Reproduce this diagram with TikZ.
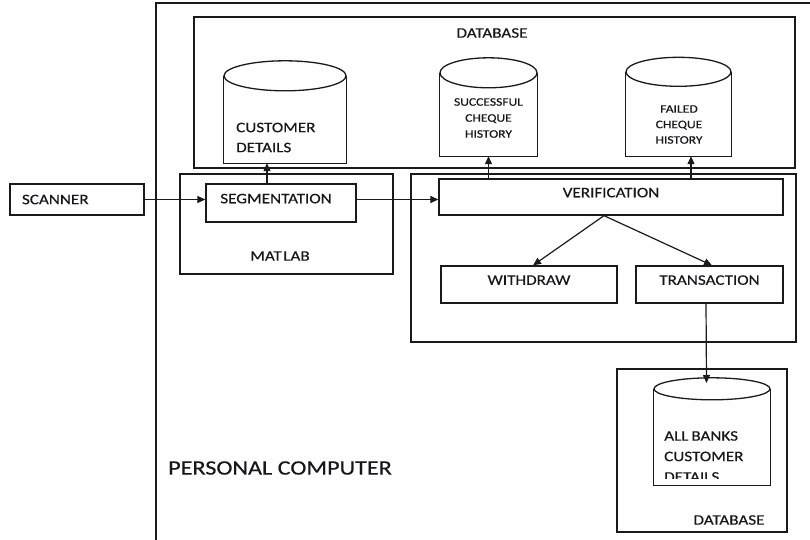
\documentclass[tikz,border=0pt]{standalone}
\usepackage{fontspec}
\setmainfont{Carlito}[FakeStretch=1.18, FakeBold=0.35]
\usetikzlibrary{arrows.meta,calc}
\definecolor{ink}{HTML}{16161E}
\definecolor{edge}{HTML}{1A1A1A}
\begin{document}
\begin{tikzpicture}[x=1pt,y=-1pt,
  every node/.style={text=ink, inner sep=0pt},
  lbl/.style={font=\fontsize{14.5}{20}\selectfont},
  small/.style={font=\fontsize{11.5}{16}\selectfont},
  frame/.style={draw=edge, line width=1.3pt},
  boxtext/.style={frame, lbl, text height=9pt, text depth=8.5pt},
  arr/.style={draw=edge, line width=1.2pt, -{Triangle[length=8pt,width=7pt]}},
]
\clip (0,0) rectangle (810,539);
\fill[white] (0,0) rectangle (810,539);

% personal computer enclosure (runs off the right and bottom)
\node[frame, minimum width=674pt, minimum height=557pt] (pc) at (493,281.5) {};
\node[anchor=west, font=\fontsize{20.5}{24}\selectfont] (pclbl) at (168,468) {PERSONAL COMPUTER};

% upper database group
\node[frame, minimum width=601pt, minimum height=151pt] (db) at (494.5,92.5) {};
\node[lbl] (dblbl) at (492,33) {DATABASE};

% cylinder bodies (flat bottoms, elliptical lids)
\node[minimum width=122pt, minimum height=87pt] (cust) at (285,119.5) {};
\node[minimum width=97pt, minimum height=83pt] (succ) at (488.5,114.5) {};
\node[minimum width=105pt, minimum height=84pt] (fail) at (678.5,114) {};
\foreach \c/\rx/\ry in {cust/61/15, succ/48.5/15, fail/52.5/14.5}{
  \draw[frame] (\c.north west) -- (\c.south west) -- (\c.south east) -- (\c.north east);
  \draw[frame, fill=white] (\c.north) ellipse [x radius=\rx, y radius=\ry];
}
\node[lbl, anchor=west, align=left] (custtxt) at (236,137.5) {CUSTOMER\\DETAILS};
\node[small, align=center] (succtxt) at (488.5,118) {SUCCESSFUL\\CHEQUE\\HISTORY};
\node[small, align=center, font=\fontsize{11.5}{15.5}\selectfont] (failtxt) at (679,124.5) {FAILED\\CHEQUE\\HISTORY};

% scanner and matlab stage
\node[frame, lbl, minimum width=134pt, minimum height=31pt, text width=110pt, inner xsep=12pt, align=left] (scan) at (77,199.5) {SCANNER};
\node[frame, minimum width=213pt, minimum height=100pt] (matlab) at (286.5,224) {};
\node[lbl] (matlbl) at (280,256) {MAT\hspace{1.5pt}LAB};
\node[boxtext, minimum width=150pt, minimum height=38pt] (seg) at (281,203) {\hspace{-10pt}SEGMENTATION};

% verification stage
\node[frame, minimum width=385pt, minimum height=168pt] (vgrp) at (603.5,258) {};
\node[boxtext, minimum width=344pt, minimum height=36pt] (ver) at (611,197) {VERIFICATION};
\node[boxtext, minimum width=176pt, minimum height=37pt] (wd) at (529,284.5) {WITHDRAW};
\node[boxtext, minimum width=147pt, minimum height=37pt] (tr) at (709.5,284.5) {TRANSACTION};

% lower database group
\node[frame, minimum width=170pt, minimum height=163pt] (db2) at (702,450.5) {};
\node[lbl] (db2lbl) at (729,520) {DATABASE};
\node[minimum width=116pt, minimum height=96pt] (ab) at (712,437) {};
\draw[frame] (ab.north west) -- (ab.south west) -- (ab.south east) -- (ab.north east);
\draw[frame, fill=white] (ab.north) ellipse [x radius=58, y radius=11];
\begin{scope}
  % the text box is shorter than its contents, so the last line is cut
  \clip (654,395) rectangle (770,478.5);
  \node[lbl, anchor=north west, align=left, font=\fontsize{14.5}{20.5}\selectfont] (abtxt) at (664,431) {ALL\hspace{-1pt} BANKS\\CUSTOMER\\DETAILS};
\end{scope}
\coordinate (abtop) at (706.5,383);

% connectors
\draw[arr] (scan.east) -- (seg.west |- scan.east);
\draw[arr] (seg.east |- scan.east) -- (ver.west |- scan.east);
\draw[arr] ([xshift=-14pt]seg.north) -- ([xshift=-14pt]seg.north |- cust.south);
\draw[arr] (ver.north -| succ.south) -- (succ.south);
\draw[arr] ([xshift=12.5pt]fail.south |- ver.north) -- ([xshift=12.5pt]fail.south);
\draw[arr] ([xshift=-7pt]ver.south) -- ([xshift=4pt]wd.north);
\draw[arr] ([xshift=-7pt]ver.south) -- ([xshift=2.5pt]tr.north);
\draw[arr] ([xshift=-3.5pt]tr.south) -- (abtop);
\end{tikzpicture}
\end{document}
